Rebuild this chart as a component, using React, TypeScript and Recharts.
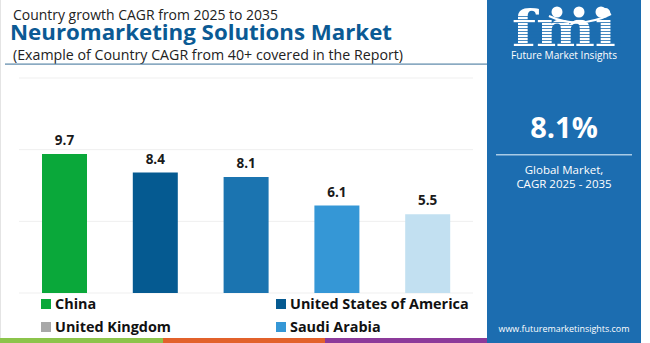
import React from "react"
import { BarChart, Bar, XAxis, YAxis, CartesianGrid, Cell, LabelList } from "recharts"

const countries = ["China", "United States of America", "United Kingdom", "Saudi Arabia", "Other"]
const cagr = [9.7, 8.4, 8.1, 6.1, 5.5]
const barColors = ["#0aa83a", "#055a91", "#1b74b0", "#3597d6", "#c2e0f1"]
const yTicks = [0, 5, 10, 15]

const legendNames = ["China", "United States of America", "United Kingdom", "Saudi Arabia"]
const legendColors = ["#0aa83a", "#055a91", "#a8a8a8", "#3597d6"]
const stripeColors = ["#8cc44b", "#e2612b", "#8c3a9a"]

const globalCagr = "8.1%"

const data = countries.map((c, i) => ({ country: c, value: cagr[i] }))

const FONT = "'Open Sans', sans-serif"
const PANEL = "#1c6db0"

function Legend() {
  return (
    <svg width={480} height={45} style={{ position: "absolute", left: 0, top: 293 }}>
      {legendNames.map((name, i) => {
        const x = i % 2 === 0 ? 41 : 276
        const y = Math.floor(i / 2) * 23 + 11
        return (
          <g key={name}>
            <rect x={x} y={y - 5} width={10} height={10} fill={legendColors[i]} />
            <text x={x + 14} y={y + 5} fontFamily={FONT} fontWeight={700} fontSize={14.4} fill="#111">
              {name}
            </text>
          </g>
        )
      })}
    </svg>
  )
}

function Panel() {
  const stripes = []
  for (let y = 16; y < 47; y += 3) stripes.push(y)
  return (
    <svg width={154} height={343} style={{ position: "absolute", left: 487, top: 0 }}>
      <rect width={154} height={343} fill={PANEL} />
      <text x={77} y={46} textAnchor="middle" fontFamily="'DejaVu Serif', serif" fontWeight={700}
        fontSize={50} fill="#fff" textLength={104} lengthAdjust="spacingAndGlyphs">fmi</text>
      {stripes.map((y) => (
        <rect key={y} x={20} y={y} width={114} height={1} fill={PANEL} opacity={0.8} />
      ))}
      <circle cx={70} cy={12} r={5.5} fill="#fff" />
      <circle cx={92} cy={12} r={5.5} fill="#fff" />
      <circle cx={114} cy={12} r={5.5} fill="#fff" />
      <path d="M62 16 Q92 30 124 14" stroke="#fff" strokeWidth={2} fill="none" />
      <text x={77} y={59} textAnchor="middle" fontFamily={FONT} fontSize={10.5} fill="#fff"
        textLength={106} lengthAdjust="spacingAndGlyphs">Future Market Insights</text>
      <text x={77} y={138} textAnchor="middle" fontFamily={FONT} fontWeight={700} fontSize={29}
        fill="#fff">{globalCagr}</text>
      <rect x={9} y={154} width={136} height={1.5} fill="#a9cbe6" />
      <text x={77} y={174} textAnchor="middle" fontFamily={FONT} fontSize={11.5} fill="#fff">Global Market,</text>
      <text x={77} y={188} textAnchor="middle" fontFamily={FONT} fontSize={11.5} fill="#fff">CAGR 2025 - 2035</text>
      <text x={77} y={332} textAnchor="middle" fontFamily={FONT} fontSize={9.5} fill="#fff"
        textLength={131} lengthAdjust="spacingAndGlyphs">www.futuremarketinsights.com</text>
    </svg>
  )
}

function Titles() {
  return (
    <svg width={487} height={70} style={{ position: "absolute", left: 0, top: 0 }}>
      <text x={13} y={20} fontFamily={FONT} fontSize={14.5} fill="#222"
        textLength={265} lengthAdjust="spacingAndGlyphs">Country growth CAGR from 2025 to 2035</text>
      <text x={10} y={39.5} fontFamily={FONT} fontWeight={700} fontSize={20.5} fill="#0b5a94"
        textLength={382} lengthAdjust="spacingAndGlyphs">Neuromarketing Solutions Market</text>
      <text x={13} y={59.5} fontFamily={FONT} fontSize={14.5} fill="#222"
        textLength={390} lengthAdjust="spacingAndGlyphs">(Example of Country CAGR from 40+ covered in the Report)</text>
      <rect x={5} y={63.5} width={482} height={1.2} fill="#5b87a8" />
    </svg>
  )
}

export default function App() {
  return (
    <div style={{ position: "relative", width: 650, height: 343, background: "#fff", overflow: "hidden", fontFamily: FONT }}>
      <style>{`body{margin:0}`}</style>
      <div style={{ position: "absolute", left: 0, top: 0, width: 1, height: 343, background: "#e4e4e4" }} />
      <Titles />
      <div style={{ position: "absolute", left: 0, top: 0 }}>
        <BarChart width={480} height={300} data={data} margin={{ top: 78, right: 7, bottom: 7, left: 19 }}>
          <CartesianGrid vertical={false} stroke="#efefef" />
          <XAxis dataKey="country" hide />
          <YAxis hide domain={[0, 15]} ticks={yTicks} />
          <Bar dataKey="value" barSize={45} isAnimationActive={false}>
            {data.map((d, i) => (
              <Cell key={d.country} fill={barColors[i]} />
            ))}
            <LabelList dataKey="value" position="top" offset={9}
              style={{ fontFamily: FONT, fontWeight: 700, fontSize: 13.5, fill: "#1a1a1a" }} />
          </Bar>
        </BarChart>
      </div>
      <Legend />
      {stripeColors.map((c, i) => (
        <div key={c} style={{ position: "absolute", left: i * 162.5, top: 338, width: 162.5, height: 5, background: c }} />
      ))}
      <Panel />
    </div>
  )
}
